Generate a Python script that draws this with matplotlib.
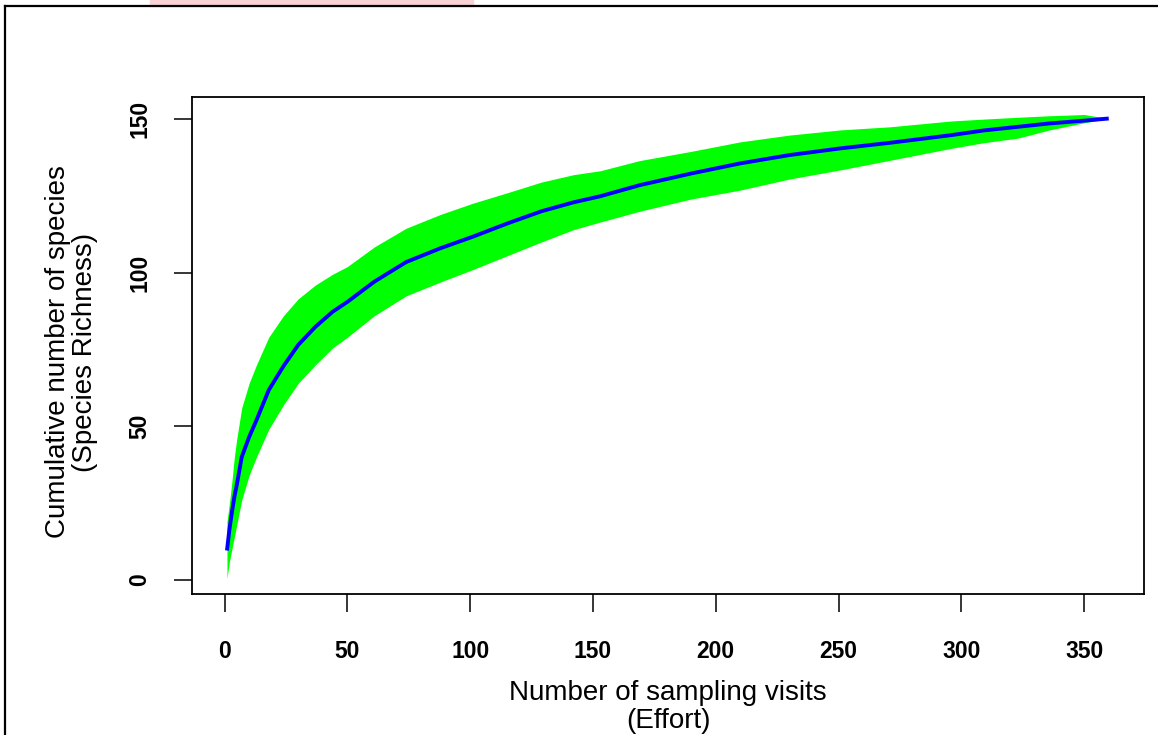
import matplotlib
matplotlib.use("Agg")
import matplotlib.pyplot as plt
from matplotlib.patches import Rectangle
from matplotlib.lines import Line2D

plt.rcParams['font.family'] = ['Liberation Sans', 'DejaVu Sans']

# species accumulation curve
visits = [1, 2, 3, 4, 5, 7, 10, 13, 18, 24, 30, 37, 44, 50, 61, 74, 88, 101, 115,
          129, 142, 153, 169, 190, 210, 230, 251, 271, 296, 309, 323, 336, 350, 360]
richness = [9.6, 16.5, 22, 27, 31, 40, 46.5, 52, 61.8, 69.6, 76.5, 82.4, 87.3, 90.5,
            97.1, 103.5, 108, 111.7, 116, 120, 122.9, 124.9, 128.5, 132.3, 135.6,
            138.3, 140.5, 142.3, 144.8, 146.3, 147.5, 148.6, 149.5, 150.2]
upper = [19, 25, 32, 40, 46, 56, 64, 70, 79, 86, 91.5, 96, 99.5, 102,
         108.4, 114.5, 119, 122.6, 126, 129.5, 131.9, 133.2, 136.5, 139.5, 142.6,
         144.8, 146.5, 147.5, 149.4, 150, 150.6, 151.1, 151.5, 150.2]
lower = [0.5, 6, 10, 14, 18, 26, 34, 40, 49, 57, 64, 70, 75.5, 79, 86, 92.5, 97, 101,
         105.5, 110, 114, 116.5, 120, 124, 126.9, 130.5, 133.5, 136.6, 140.5, 142.3,
         143.8, 146.5, 148.8, 150.2]

xticks = [0, 50, 100, 150, 200, 250, 300, 350]
yticks = [0, 50, 100, 150]

W, H = 1158, 735
fig = plt.figure(figsize=(W / 100, H / 100), dpi=100)
ax = fig.add_axes([191.7 / W, 1 - 594 / H, (1144 - 191.7) / W, (594 - 97.3) / H])

ax.fill_between(visits, lower, upper, color='#00ff00', linewidth=0)
ax.plot(visits, richness, color='#0000ff', lw=2.8, solid_capstyle='butt')

ax.set_xlim(-13.36, 374.36)
ax.set_ylim(-4.56, 157.1)
ax.set_xticks(xticks)
ax.set_yticks(yticks)
ax.tick_params(direction='out', length=13, width=1.1, labelsize=16.5)
ax.tick_params(axis='x', pad=20)
ax.tick_params(axis='y', pad=16, labelrotation=90)
for lbl in ax.get_xticklabels() + ax.get_yticklabels():
    lbl.set_fontweight('bold')
for lbl in ax.get_yticklabels():
    lbl.set_va('center')
for s in ax.spines.values():
    s.set_linewidth(1.3)

fig.text(668 / W, 1 - 707 / H, "Number of sampling visits\n(Effort)",
         ha='center', va='center', fontsize=20, linespacing=1.1)
fig.text(72 / W, 1 - 352 / H, "Cumulative number of species\n(Species Richness)",
         ha='center', va='center', rotation=90, fontsize=20, linespacing=1.05)

# page frame and faint banner at the top edge
fig.patches.append(Rectangle((150 / W, 1 - 6 / H), 323 / W, 6 / H,
                             transform=fig.transFigure, color='#f8d2d4', zorder=0))
fig.lines.append(Line2D([4.5 / W, 4.5 / W], [0, 1 - 6 / H], transform=fig.transFigure,
                        color='black', lw=1.6))
fig.lines.append(Line2D([4.5 / W, 1], [1 - 6 / H, 1 - 6 / H], transform=fig.transFigure,
                        color='black', lw=1.6))

fig.savefig("out.png", dpi=100)
